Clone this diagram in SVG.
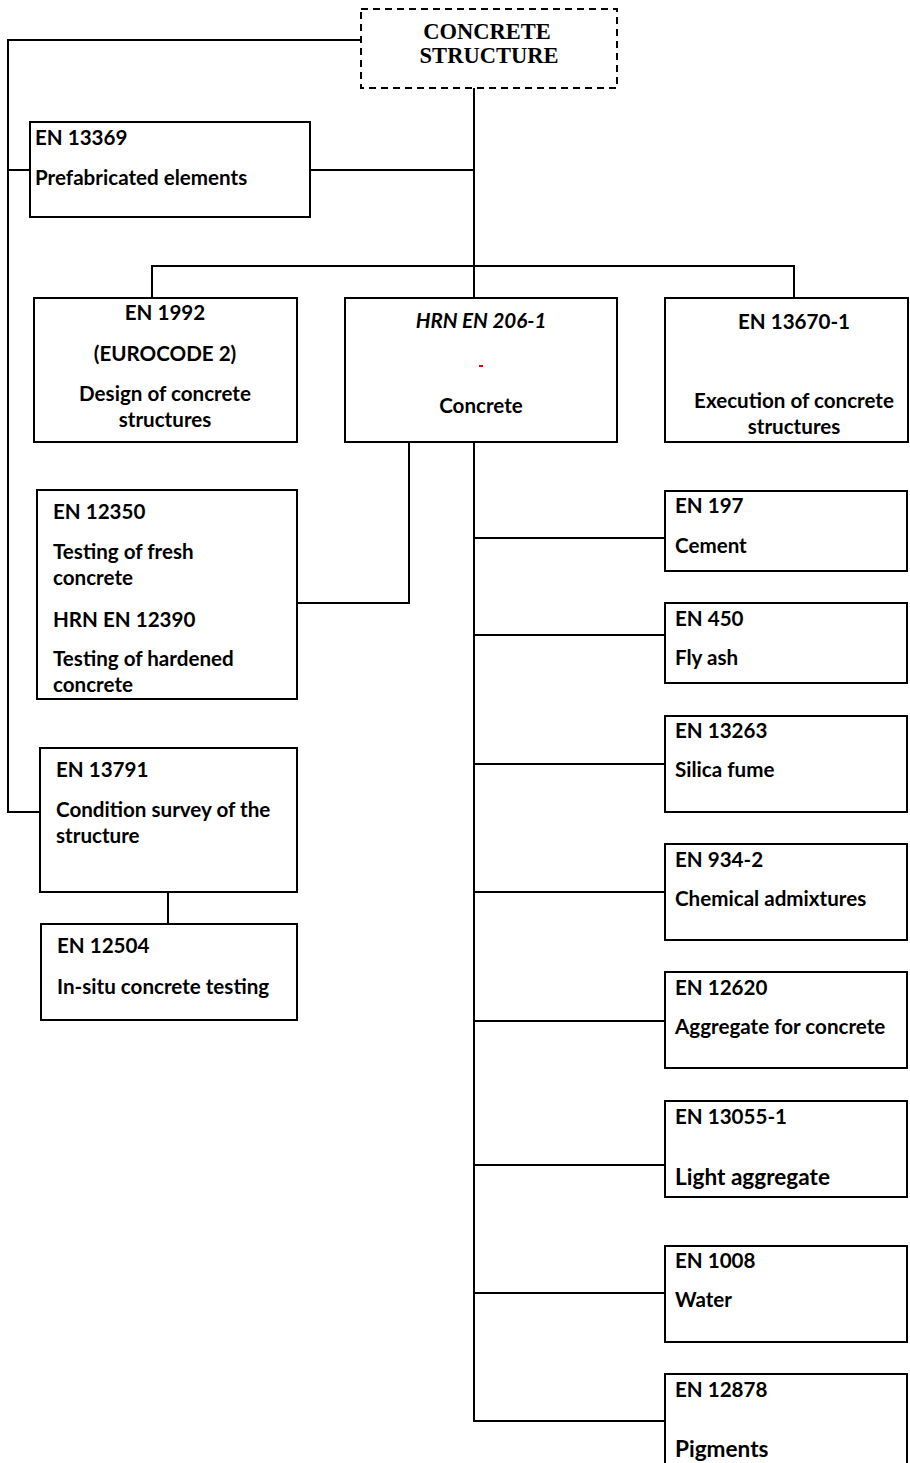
<svg xmlns="http://www.w3.org/2000/svg" width="910" height="1463" viewBox="0 0 910 1463">
<style>
.box{fill:#fff;stroke:#000;stroke-width:2}
.dash{fill:#fff;stroke:#000;stroke-width:2;stroke-dasharray:7 5}
.ln{fill:none;stroke:#000;stroke-width:2}
text{font-family:Lato,"Open Sans","Liberation Sans",sans-serif;font-weight:700;font-size:20.6px;fill:#000}
.c{text-anchor:middle}
.it{font-style:italic}
.big{font-size:22.6px}
.hd{font-family:"Liberation Serif","Times New Roman",serif;font-size:22.5px;text-anchor:middle}
</style>
<rect width="910" height="1463" fill="#fff"/>
<g id="connectors">
<polyline class="ln" points="361,40 8,40 8,812 40,812"/>
<line class="ln" x1="8" y1="170" x2="30" y2="170"/>
<line class="ln" x1="474" y1="88" x2="474" y2="266"/>
<line class="ln" x1="310" y1="170" x2="474" y2="170"/>
<polyline class="ln" points="152,298 152,266 794,266 794,298"/>
<line class="ln" x1="474" y1="266" x2="474" y2="298"/>
<polyline class="ln" points="409,442 409,603 297,603"/>
<polyline class="ln" points="474,442 474,1421 665,1421"/>
<line class="ln" x1="474" y1="538" x2="665" y2="538"/>
<line class="ln" x1="474" y1="635" x2="665" y2="635"/>
<line class="ln" x1="474" y1="764" x2="665" y2="764"/>
<line class="ln" x1="474" y1="892" x2="665" y2="892"/>
<line class="ln" x1="474" y1="1021" x2="665" y2="1021"/>
<line class="ln" x1="474" y1="1165" x2="665" y2="1165"/>
<line class="ln" x1="474" y1="1293" x2="665" y2="1293"/>
<line class="ln" x1="168" y1="892" x2="168" y2="924"/>
</g>
<g id="concrete-structure">
<rect class="dash" x="361" y="9" width="256" height="79"/>
<text class="hd" x="487" y="39">CONCRETE</text>
<text class="hd" x="489" y="63">STRUCTURE</text>
</g>
<g id="en13369">
<rect class="box" x="30" y="122" width="280" height="95"/>
<text x="35" y="145">EN 13369</text>
<text x="35" y="185">Prefabricated elements</text>
</g>
<g id="en1992">
<rect class="box" x="34" y="298" width="263" height="144"/>
<text class="c" x="165" y="320">EN 1992</text>
<text class="c" x="165" y="361">(EUROCODE 2)</text>
<text class="c" x="165" y="401">Design of concrete</text>
<text class="c" x="165" y="427">structures</text>
</g>
<g id="hrn206">
<rect class="box" x="345" y="298" width="272" height="144"/>
<text class="c it" x="481" y="328">HRN EN 206-1</text>
<rect x="479" y="365" width="4" height="2" fill="#e00"/>
<text class="c" x="481" y="413">Concrete</text>
</g>
<g id="en13670">
<rect class="box" x="665" y="298" width="243" height="144"/>
<text class="c" x="794" y="329">EN 13670-1</text>
<text class="c" x="794" y="408">Execution of concrete</text>
<text class="c" x="794" y="434">structures</text>
</g>
<g id="en12350">
<rect class="box" x="37" y="490" width="260" height="209"/>
<text x="53" y="519">EN 12350</text>
<text x="53" y="559">Testing of fresh</text>
<text x="53" y="585">concrete</text>
<text x="53" y="627">HRN EN 12390</text>
<text x="53" y="666">Testing of hardened</text>
<text x="53" y="692">concrete</text>
</g>
<g id="en13791">
<rect class="box" x="40" y="748" width="257" height="144"/>
<text x="56" y="777">EN 13791</text>
<text x="56" y="817">Condition survey of the</text>
<text x="56" y="843">structure</text>
</g>
<g id="en12504">
<rect class="box" x="41" y="924" width="256" height="96"/>
<text x="57" y="953">EN 12504</text>
<text x="57" y="994">In-situ concrete testing</text>
</g>
<g id="en197">
<rect class="box" x="665" y="491" width="242" height="80"/>
<text x="675" y="513">EN 197</text>
<text x="675" y="553">Cement</text>
</g>
<g id="en450">
<rect class="box" x="665" y="603" width="242" height="80"/>
<text x="675" y="626">EN 450</text>
<text x="675" y="665">Fly ash</text>
</g>
<g id="en13263">
<rect class="box" x="665" y="716" width="242" height="96"/>
<text x="675" y="738">EN 13263</text>
<text x="675" y="777">Silica fume</text>
</g>
<g id="en934">
<rect class="box" x="665" y="844" width="242" height="96"/>
<text x="675" y="867">EN 934-2</text>
<text x="675" y="906">Chemical admixtures</text>
</g>
<g id="en12620">
<rect class="box" x="665" y="972" width="242" height="96"/>
<text x="675" y="995">EN 12620</text>
<text x="675" y="1034">Aggregate for concrete</text>
</g>
<g id="en13055">
<rect class="box" x="665" y="1101" width="242" height="96"/>
<text x="675" y="1124">EN 13055-1</text>
<text class="big" x="675" y="1185">Light aggregate</text>
</g>
<g id="en1008">
<rect class="box" x="665" y="1246" width="242" height="96"/>
<text x="675" y="1268">EN 1008</text>
<text x="675" y="1307">Water</text>
</g>
<g id="en12878">
<rect class="box" x="665" y="1374" width="242" height="100"/>
<text x="675" y="1397">EN 12878</text>
<text class="big" x="675" y="1457">Pigments</text>
</g>
</svg>
